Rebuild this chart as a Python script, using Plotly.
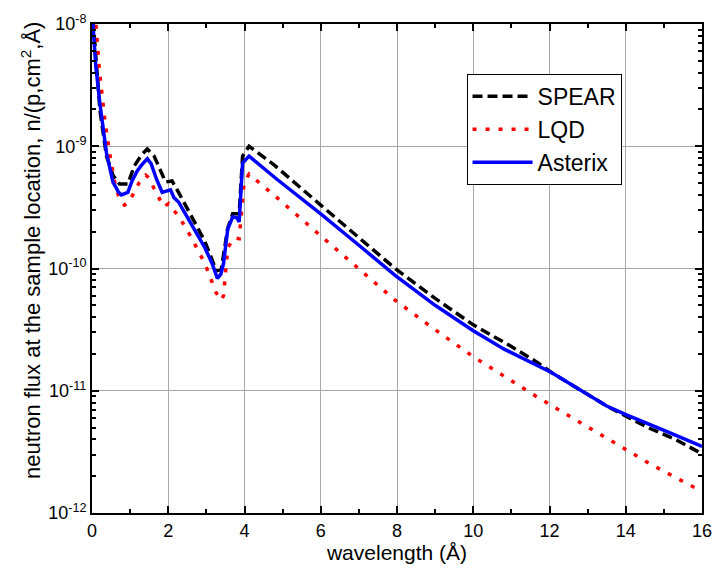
import plotly.graph_objects as go

# ---- data ----
spear_x = [0.0, 0.1, 0.21, 0.38, 0.55, 0.72, 0.94, 1.11, 1.3, 1.45, 1.63, 1.93, 2.1, 2.27,
           2.61, 2.96, 3.26, 3.39, 3.56, 3.69, 3.86, 3.95, 4.12, 4.76, 6.0, 7.0, 7.95, 9.0,
           10.0, 11.0, 11.7, 12.05, 13.5, 14.58, 15.3, 16.0]
spear_y = [1.4e-8, 5.0e-9, 1.95e-9, 8.3e-10, 5.8e-10, 4.9e-10, 4.9e-10, 6.9e-10, 8.5e-10,
           9.5e-10, 8.3e-10, 5.1e-10, 5.2e-10, 4.2e-10, 2.7e-10, 1.67e-10, 9.6e-11, 9.8e-11,
           2.14e-10, 2.8e-10, 2.8e-10, 8.3e-10, 1.0e-9, 7.1e-10, 3.3e-10, 1.8e-10, 1.0e-10,
           5.7e-11, 3.46e-11, 2.3e-11, 1.69e-11, 1.41e-11, 7.5e-12, 5.0e-12, 4.0e-12, 3.05e-12]

lqd_x = [0.05, 0.1, 0.2, 0.34, 0.46, 0.6, 0.72, 0.85, 0.94, 1.07, 1.24, 1.41, 1.5, 1.63,
         1.88, 2.01, 2.1, 2.27, 2.61, 2.96, 3.26, 3.39, 3.45, 3.56, 3.73, 3.86, 3.99, 4.12,
         4.85, 6.0, 7.0, 7.95, 8.95, 10.0, 11.7, 13.18, 14.66, 16.0]
lqd_y = [1.6e-8, 1.0e-8, 4.0e-9, 1.6e-9, 8.8e-10, 5.0e-10, 3.7e-10, 3.3e-10, 3.4e-10,
         4.0e-10, 5.06e-10, 5.8e-10, 5.5e-10, 4.5e-10, 3.2e-10, 3.4e-10, 3.1e-10, 2.7e-10,
         1.78e-10, 1.1e-10, 6.3e-11, 5.5e-11, 6.0e-11, 1.48e-10, 1.78e-10, 1.75e-10, 5.06e-10,
         5.9e-10, 3.8e-10, 1.85e-10, 1.0e-10, 5.5e-11, 3.24e-11, 1.9e-11, 8.8e-12, 4.7e-12,
         2.5e-12, 1.5e-12]

asterix_x = [0.0, 0.05, 0.1, 0.21, 0.38, 0.55, 0.7, 0.77, 0.94, 1.05, 1.19, 1.3, 1.45, 1.55,
             1.7, 1.84, 2.06, 2.15, 2.27, 2.45, 2.61, 2.8, 2.96, 3.15, 3.29, 3.38, 3.45, 3.56,
             3.69, 3.8, 3.86, 3.95, 4.12, 4.85, 6.0, 7.0, 7.95, 9.0, 10.0, 10.8, 12.05, 13.5,
             14.05, 15.1, 16.0]
asterix_y = [1.3e-8, 8.0e-9, 4.5e-9, 2.2e-9, 8.8e-10, 5.1e-10, 4.2e-10, 4.0e-10, 4.2e-10,
             5.2e-10, 6.3e-10, 7.0e-10, 7.9e-10, 7.2e-10, 5.3e-10, 4.2e-10, 4.4e-10, 3.8e-10,
             3.5e-10, 2.8e-10, 2.3e-10, 1.8e-10, 1.48e-10, 1.1e-10, 8.3e-11, 9.0e-11, 1.1e-10,
             2.1e-10, 2.65e-10, 2.6e-10, 2.4e-10, 7.3e-10, 8.3e-10, 5.37e-10, 2.8e-10, 1.55e-10,
             8.8e-11, 5.0e-11, 3.1e-11, 2.2e-11, 1.41e-11, 7.5e-12, 6.3e-12, 4.6e-12, 3.5e-12]

names = ["SPEAR", "LQD", "Asterix"]
x_title = "wavelength (Å)"
y_title = "neutron flux at the sample location, n/(p,cm<sup>2</sup>,Å)"
y_exponents = [-12, -11, -10, -9, -8]
y_tickvals = [10.0 ** e for e in y_exponents]
y_ticktext = ["10<sup>%d</sup>" % e for e in y_exponents]
minor_y = [k * 10.0 ** e for e in range(-12, -8) for k in range(2, 10)]

fig = go.Figure()
fig.add_trace(go.Scatter(x=spear_x, y=spear_y, name=names[0], mode="lines",
                         line=dict(color="black", width=3.5, dash="10px,5px")))
fig.add_trace(go.Scatter(x=lqd_x, y=lqd_y, name=names[1], mode="lines",
                         line=dict(color="#ff0000", width=3.5, dash="4px,9px")))
fig.add_trace(go.Scatter(x=asterix_x, y=asterix_y, name=names[2], mode="lines",
                         line=dict(color="#0000ff", width=3.5)))

font = "Liberation Sans, Arial, sans-serif"
fig.update_layout(
    width=724, height=571,
    margin=dict(l=92, r=12, t=18, b=53),
    paper_bgcolor="white", plot_bgcolor="white",
    font=dict(family=font, color="black", size=17),
    legend=dict(x=0.614, y=0.898, xanchor="left", yanchor="top",
                bordercolor="black", borderwidth=1, bgcolor="white",
                font=dict(size=23, family=font), itemwidth=60,
                tracegroupgap=0),
    showlegend=True,
    annotations=[dict(text=y_title, textangle=-90, xref="paper", yref="paper",
                      x=-0.1, y=0.536, xanchor="center", yanchor="middle",
                      showarrow=False, font=dict(size=22, family=font, color="black"))],
)
fig.update_xaxes(
    range=[0, 16], dtick=2, tick0=0,
    showline=True, linecolor="black", linewidth=2, mirror="allticks",
    ticks="inside", ticklen=7, tickwidth=1.5, tickcolor="black",
    showgrid=True, gridcolor="#a8a8a8", gridwidth=1, zeroline=False,
    minor=dict(dtick=1, ticks="inside", ticklen=4, tickwidth=1.5, tickcolor="black", showgrid=False),
    tickfont=dict(size=18),
    title=dict(text=x_title, font=dict(size=21), standoff=4),
)
fig.update_yaxes(
    type="log", range=[-12, -8], tickmode="array", tickvals=y_tickvals, ticktext=y_ticktext,
    showline=True, linecolor="black", linewidth=2, mirror="allticks",
    ticks="inside", ticklen=7, tickwidth=1.5, tickcolor="black",
    showgrid=True, gridcolor="#a8a8a8", gridwidth=1, zeroline=False,
    minor=dict(tickmode="array", tickvals=minor_y, ticks="inside", ticklen=4, tickwidth=1.5,
               tickcolor="black", showgrid=False),
    tickfont=dict(size=18),
)

fig.write_html("out.html")
